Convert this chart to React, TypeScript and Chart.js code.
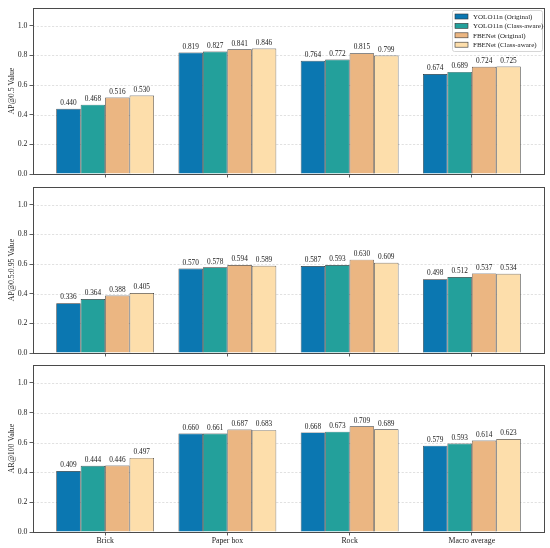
import React, { useEffect, useRef } from "react";
import { Chart, registerables } from "chart.js";

Chart.register(...registerables);

const categories = ["Brick", "Paper box", "Rock", "Macro average"];
const seriesNames = [
  "YOLO11n (Original)",
  "YOLO11n (Class-aware)",
  "FBENet (Original)",
  "FBENet (Class-aware)",
];
const seriesColors = ["#0b77b1", "#23a09b", "#ebb682", "#fddeab"];
const yTickValues = [0, 0.2, 0.4, 0.6, 0.8, 1.0];

// AP@0.5
const ap50YoloOriginal = [0.44, 0.819, 0.764, 0.674];
const ap50YoloClassAware = [0.468, 0.827, 0.772, 0.689];
const ap50FbeOriginal = [0.516, 0.841, 0.815, 0.724];
const ap50FbeClassAware = [0.53, 0.846, 0.799, 0.725];

// AP@0.5:0.95
const ap5095YoloOriginal = [0.336, 0.57, 0.587, 0.498];
const ap5095YoloClassAware = [0.364, 0.578, 0.593, 0.512];
const ap5095FbeOriginal = [0.388, 0.594, 0.63, 0.537];
const ap5095FbeClassAware = [0.405, 0.589, 0.609, 0.534];

// AR@100
const ar100YoloOriginal = [0.409, 0.66, 0.668, 0.579];
const ar100YoloClassAware = [0.444, 0.661, 0.673, 0.593];
const ar100FbeOriginal = [0.446, 0.687, 0.709, 0.614];
const ar100FbeClassAware = [0.497, 0.683, 0.689, 0.623];

const FONT = "'Liberation Serif', 'DejaVu Serif', serif";

type PanelProps = {
  yTitle: string;
  series: number[][];
  showXLabels: boolean;
  showLegend: boolean;
  top: number;
  height: number;
  padTop: number;
  xAxisHeight: number;
};

const W = 550;

function Panel(props: PanelProps) {
  const ref = useRef<HTMLCanvasElement | null>(null);
  useEffect(() => {
    if (!ref.current) return;
    const decor = {
      id: "decor",
      beforeDatasetsDraw(chart: any) {
        const { ctx, chartArea: a, scales } = chart;
        const y = scales.y;
        ctx.save();
        ctx.strokeStyle = "rgba(170,170,170,0.6)";
        ctx.lineWidth = 0.6;
        ctx.setLineDash([2.2, 1.6]);
        for (const v of yTickValues) {
          if (v === 0) continue;
          const py = Math.round(y.getPixelForValue(v)) + 0.5;
          ctx.beginPath();
          ctx.moveTo(a.left, py);
          ctx.lineTo(a.right, py);
          ctx.stroke();
        }
        ctx.restore();
      },
      afterDatasetsDraw(chart: any) {
        const { ctx, chartArea: a } = chart;
        ctx.save();
        ctx.font = `7.3px ${FONT}`;
        ctx.fillStyle = "#222";
        ctx.textAlign = "center";
        ctx.textBaseline = "bottom";
        chart.data.datasets.forEach((ds: any, di: number) => {
          const meta = chart.getDatasetMeta(di);
          meta.data.forEach((bar: any, i: number) => {
            const v = ds.data[i].y as number;
            ctx.fillText(v.toFixed(3), bar.x, bar.y - 2);
          });
        });
        // frame
        ctx.strokeStyle = "#4a4a4a";
        ctx.lineWidth = 1;
        ctx.strokeRect(
          Math.round(a.left) + 0.5,
          Math.round(a.top) + 0.5,
          Math.round(a.right) - Math.round(a.left),
          Math.round(a.bottom) - Math.round(a.top)
        );
        ctx.restore();
      },
      afterDraw(chart: any) {
        if (!props.showLegend) return;
        const { ctx, chartArea: a } = chart;
        ctx.save();
        const bw = 90;
        const bh = 41;
        const bx = a.right - bw - 2;
        const by = a.top + 2;
        ctx.fillStyle = "rgba(255,255,255,0.85)";
        ctx.strokeStyle = "#cccccc";
        ctx.lineWidth = 0.8;
        ctx.beginPath();
        (ctx as any).roundRect(bx + 0.5, by + 0.5, bw, bh, 2);
        ctx.fill();
        ctx.stroke();
        ctx.font = `7px ${FONT}`;
        ctx.textAlign = "left";
        ctx.textBaseline = "middle";
        seriesNames.forEach((name, i) => {
          const cy = by + 6.5 + i * 9.4;
          ctx.fillStyle = seriesColors[i];
          ctx.fillRect(bx + 3, cy - 2.5, 13, 5);
          ctx.strokeStyle = "#333";
          ctx.lineWidth = 0.6;
          ctx.strokeRect(bx + 3, cy - 2.5, 13, 5);
          ctx.fillStyle = "#222";
          ctx.fillText(name, bx + 21, cy + 0.5);
        });
        ctx.restore();
      },
    };

    const chart = new Chart(ref.current, {
      type: "bar",
      data: {
        datasets: props.series.map((vals, si) => ({
          label: seriesNames[si],
          data: vals.map((v, i) => ({ x: i, y: v })),
          backgroundColor: seriesColors[si],
          borderColor: "#2e2e2e",
          borderWidth: 0.7,
          categoryPercentage: 0.8,
          barPercentage: 1.0,
        })),
      },
      options: {
        animation: false,
        responsive: false,
        devicePixelRatio: window.devicePixelRatio || 1,
        layout: { padding: { top: props.padTop, right: 6, left: 0, bottom: 0 } },
        plugins: {
          legend: { display: false },
          tooltip: { enabled: false },
        },
        scales: {
          x: {
            type: "linear",
            min: -0.59,
            max: 3.59,
            offset: false,
            afterBuildTicks: (s: any) => {
              s.ticks = [0, 1, 2, 3].map((v) => ({ value: v }));
            },
            afterFit: (s: any) => {
              s.height = props.xAxisHeight;
              s.paddingLeft = 0;
              s.paddingRight = 0;
            },
            grid: {
              offset: false,
              drawOnChartArea: false,
              drawTicks: true,
              tickLength: 3.5,
              tickColor: "#333",
              tickWidth: 0.8,
            },
            border: { display: false },
            ticks: {
              autoSkip: false,
              maxRotation: 0,
              padding: 1,
              color: "#222",
              font: { family: FONT, size: 7.8 },
              callback: (v: any) => (props.showXLabels ? categories[v as number] : ""),
            },
          },
          y: {
            type: "linear",
            min: 0,
            max: 1.12,
            afterFit: (s: any) => {
              s.width = 33;
              s.paddingTop = 0;
              s.paddingBottom = 0;
            },
            afterBuildTicks: (s: any) => {
              s.ticks = yTickValues.map((v) => ({ value: v }));
            },
            grid: {
              offset: false,
              drawOnChartArea: false,
              drawTicks: true,
              tickLength: 3.5,
              tickColor: "#333",
              tickWidth: 0.8,
            },
            border: { display: false },
            title: {
              display: true,
              text: props.yTitle,
              color: "#222",
              font: { family: FONT, size: 7.8 },
              padding: { top: 7, bottom: 0 },
            },
            ticks: {
              padding: 2,
              color: "#222",
              font: { family: FONT, size: 7.8 },
              callback: (v: any) => Number(v).toFixed(1),
            },
          },
        },
      },
      plugins: [decor],
    } as any);
    return () => chart.destroy();
  }, []);
  return (
    <canvas
      ref={ref}
      width={W}
      height={props.height}
      style={{ position: "absolute", left: 0, top: props.top, width: W, height: props.height }}
    />
  );
}

export default function App() {
  return (
    <div
      style={{
        position: "absolute",
        left: 0,
        top: 0,
        width: 550,
        height: 548,
        background: "#fff",
        overflow: "hidden",
      }}
    >
      <Panel
        yTitle="AP@0.5 Value"
        series={[ap50YoloOriginal, ap50YoloClassAware, ap50FbeOriginal, ap50FbeClassAware]}
        showXLabels={false}
        showLegend={true}
        top={0}
        height={180}
        padTop={8}
        xAxisHeight={6}
      />
      <Panel
        yTitle="AP@0.5:0.95 Value"
        series={[ap5095YoloOriginal, ap5095YoloClassAware, ap5095FbeOriginal, ap5095FbeClassAware]}
        showXLabels={false}
        showLegend={false}
        top={180}
        height={179}
        padTop={7}
        xAxisHeight={6}
      />
      <Panel
        yTitle="AR@100 Value"
        series={[ar100YoloOriginal, ar100YoloClassAware, ar100FbeOriginal, ar100FbeClassAware]}
        showXLabels={true}
        showLegend={false}
        top={359}
        height={189}
        padTop={6}
        xAxisHeight={16}
      />
    </div>
  );
}
